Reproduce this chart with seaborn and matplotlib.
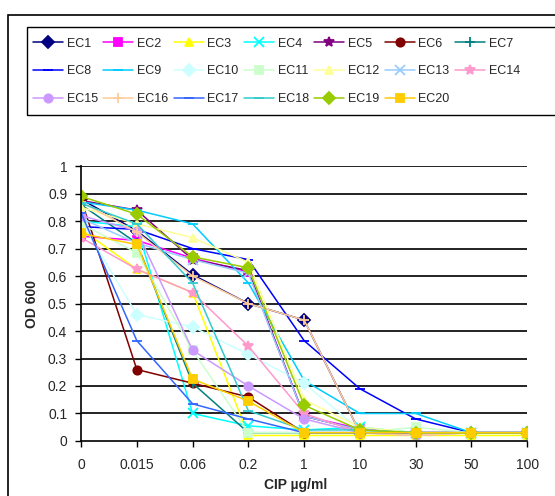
import pandas as pd
import seaborn as sns
from matplotlib import pyplot as plt
from matplotlib.patches import Rectangle

# CIP concentrations (ug/ml) used as categories on the x axis
doses = ["0", "0.015", "0.06", "0.2", "1", "10", "30", "50", "100"]

# OD 600 readings per strain
ec1 = [0.88, 0.765, 0.605, 0.50, 0.44, 0.03, 0.03, 0.03, 0.03]
ec2 = [0.745, 0.73, 0.665, 0.615, 0.09, 0.045, 0.03, 0.03, 0.03]
ec3 = [0.77, 0.625, 0.54, 0.02, 0.02, 0.02, 0.02, 0.02, 0.02]
ec4 = [0.80, 0.78, 0.10, 0.055, 0.04, 0.05, 0.03, 0.03, 0.03]
ec5 = [0.875, 0.84, 0.66, 0.62, 0.09, 0.04, 0.03, 0.03, 0.03]
ec6 = [0.88, 0.26, 0.21, 0.16, 0.03, 0.03, 0.03, 0.03, 0.03]
ec7 = [0.86, 0.72, 0.21, 0.03, 0.03, 0.03, 0.03, 0.03, 0.03]
ec8 = [0.78, 0.77, 0.70, 0.66, 0.365, 0.19, 0.08, 0.03, 0.03]
ec9 = [0.87, 0.84, 0.79, 0.575, 0.22, 0.10, 0.10, 0.03, 0.03]
ec10 = [0.80, 0.46, 0.415, 0.315, 0.21, 0.04, 0.03, 0.03, 0.03]
ec11 = [0.79, 0.685, 0.33, 0.03, 0.03, 0.03, 0.05, 0.03, 0.03]
ec12 = [0.85, 0.79, 0.74, 0.65, 0.15, 0.05, 0.03, 0.03, 0.03]
ec13 = [0.81, 0.72, 0.66, 0.61, 0.09, 0.04, 0.03, 0.03, 0.03]
ec14 = [0.74, 0.625, 0.54, 0.345, 0.10, 0.03, 0.03, 0.03, 0.03]
ec15 = [0.82, 0.765, 0.33, 0.20, 0.08, 0.03, 0.02, 0.03, 0.03]
ec16 = [0.87, 0.76, 0.60, 0.50, 0.44, 0.03, 0.02, 0.03, 0.03]
ec17 = [0.83, 0.365, 0.135, 0.08, 0.03, 0.03, 0.03, 0.03, 0.03]
ec18 = [0.865, 0.79, 0.575, 0.11, 0.04, 0.04, 0.03, 0.03, 0.03]
ec19 = [0.89, 0.825, 0.67, 0.63, 0.13, 0.04, 0.03, 0.03, 0.03]
ec20 = [0.755, 0.715, 0.225, 0.145, 0.03, 0.03, 0.03, 0.03, 0.03]

strains = ["EC" + str(i) for i in range(1, 21)]
values = [ec1, ec2, ec3, ec4, ec5, ec6, ec7, ec8, ec9, ec10,
          ec11, ec12, ec13, ec14, ec15, ec16, ec17, ec18, ec19, ec20]

# old Excel default series colours and markers
colours = ["#000080", "#FF00FF", "#FFFF00", "#00FFFF", "#800080",
           "#800000", "#008080", "#0000FF", "#00CCFF", "#CCFFFF",
           "#CCFFCC", "#FFFF99", "#99CCFF", "#FF99CC", "#CC99FF",
           "#FFCC99", "#3366FF", "#33CCCC", "#99CC00", "#FFCC00"]
marks = ["D", "s", "^", "x", "*", "o", "+", "_", "_", "D",
         "s", "^", "x", "*", "o", "+", "_", "_", "D", "s"]

sns.set_style("white")
plt.rcParams["font.family"] = ["Liberation Sans", "DejaVu Sans"]

fig = plt.figure(figsize=(5.55, 4.96), dpi=100)
ax = fig.add_axes([0.146, 0.111, 0.804, 0.554])

# horizontal gridlines first so lines sit on top
for g in [i / 10 for i in range(1, 11)]:
    ax.axhline(g, color="#222222", lw=1.4, zorder=0)

# one lineplot per strain, since filled and line markers can't be mixed
for name, vals, col, mk in zip(strains, values, colours, marks):
    df = pd.DataFrame({"pos": range(len(doses)), "od": vals})
    size = 7 if mk in ("_", "*", "x", "+") else 6
    sns.lineplot(data=df, x="pos", y="od", color=col, marker=mk,
                 markersize=size, markeredgewidth=1.3, markeredgecolor=col,
                 linewidth=1.1, label=name, ax=ax)

ax.set_xlim(0, 8)
ax.set_ylim(0, 1)
ax.set_xticks(range(len(doses)))
ax.set_xticklabels(doses)
ax.set_yticks([i / 10 for i in range(11)])
ax.set_yticklabels(["0"] + ["%.1f" % (i / 10) for i in range(1, 10)] + ["1"])
ax.tick_params(axis="both", direction="out", length=4, width=1, color="black",
               labelsize=10, pad=6, bottom=True, left=True)
ax.tick_params(axis="x", pad=8)

for side in ["top", "right"]:
    ax.spines[side].set_visible(False)
for side in ["left", "bottom"]:
    ax.spines[side].set_color("black")
    ax.spines[side].set_linewidth(1.2)

ax.set_xlabel("CIP µg/ml", fontsize=10, fontweight="bold")
ax.set_ylabel("OD 600", fontsize=10, fontweight="bold")
ax.xaxis.set_label_coords(0.48, -0.135)
ax.yaxis.set_label_coords(-0.095, 0.5)

# legend filled column by column, so reorder to read row by row
handles, labels = ax.get_legend_handles_labels()
ax.get_legend().remove()
order = []
for c in range(7):
    for r in range(3):
        k = r * 7 + c
        if k < len(handles):
            order.append(k)
leg = fig.legend([handles[k] for k in order], [labels[k] for k in order],
                 ncol=7, loc="upper left", bbox_to_anchor=(0.0595, 0.924),
                 frameon=False, fontsize=9, handlelength=2.4,
                 handletextpad=0.3, columnspacing=0.43, labelspacing=1.25,
                 borderpad=0, borderaxespad=0)

# legend box and outer chart frame, both running off the right edge
fig.patches.append(Rectangle((0.0486, 0.7681), 1.2, 0.1775,
                             transform=fig.transFigure, fill=False,
                             edgecolor="black", lw=1.0))
fig.patches.append(Rectangle((0.015, -0.1), 1.2, 1.07, transform=fig.transFigure,
                             fill=False, edgecolor="black", lw=1.2))

fig.savefig("out.png", dpi=100)
